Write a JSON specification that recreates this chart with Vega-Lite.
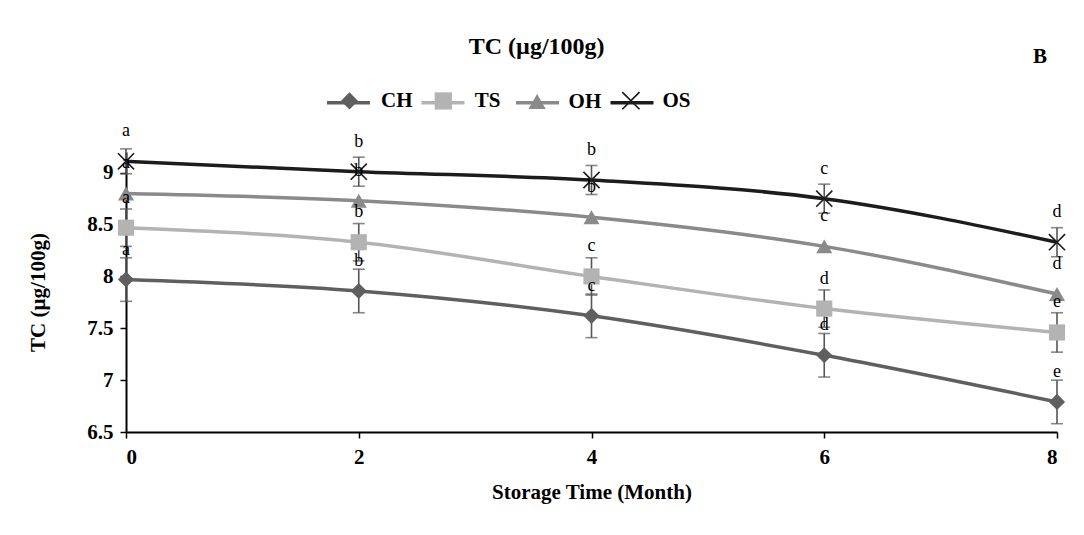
{
  "$schema": "https://vega.github.io/schema/vega-lite/v6.json",
  "autosize": {"type": "none"},
  "width": 931,
  "height": 280,
  "padding": {"left": 126, "top": 152, "right": 27, "bottom": 103},
  "background": "white",
  "title": {
    "text": "TC (µg/100g)",
    "font": "Liberation Serif",
    "fontSize": 24,
    "fontWeight": "bold",
    "color": "black",
    "anchor": "middle",
    "frame": "bounds",
    "offset": -13,
    "dx": -10
  },
  "config": {
    "view": {"stroke": null},
    "axis": {
      "domainColor": "black",
      "domainWidth": 2,
      "tickColor": "black",
      "tickWidth": 1.5,
      "tickSize": 6,
      "grid": false,
      "labelFont": "Liberation Serif",
      "labelFontWeight": "bold",
      "labelFontSize": 21,
      "labelColor": "black",
      "titleFont": "Liberation Serif",
      "titleFontWeight": "bold",
      "titleFontSize": 21,
      "titleColor": "black"
    }
  },
  "data": {
    "values": [
      {"series": "CH", "month": 0, "tc": 7.97, "sd": 0.21, "letter": "a"},
      {"series": "CH", "month": 2, "tc": 7.86, "sd": 0.21, "letter": "b"},
      {"series": "CH", "month": 4, "tc": 7.62, "sd": 0.21, "letter": "c"},
      {"series": "CH", "month": 6, "tc": 7.24, "sd": 0.21, "letter": "d"},
      {"series": "CH", "month": 8, "tc": 6.79, "sd": 0.21, "letter": "e"},
      {"series": "TS", "month": 0, "tc": 8.47, "sd": 0.18, "letter": "a"},
      {"series": "TS", "month": 2, "tc": 8.33, "sd": 0.18, "letter": "b"},
      {"series": "TS", "month": 4, "tc": 8.0, "sd": 0.18, "letter": "c"},
      {"series": "TS", "month": 6, "tc": 7.69, "sd": 0.18, "letter": "d"},
      {"series": "TS", "month": 8, "tc": 7.46, "sd": 0.19, "letter": "e"},
      {"series": "OH", "month": 0, "tc": 8.8, "sd": 0, "letter": "a"},
      {"series": "OH", "month": 2, "tc": 8.73, "sd": 0, "letter": "b"},
      {"series": "OH", "month": 4, "tc": 8.57, "sd": 0, "letter": "b"},
      {"series": "OH", "month": 6, "tc": 8.29, "sd": 0, "letter": "c"},
      {"series": "OH", "month": 8, "tc": 7.83, "sd": 0, "letter": "d"},
      {"series": "OS", "month": 0, "tc": 9.11, "sd": 0.12, "letter": "a"},
      {"series": "OS", "month": 2, "tc": 9.01, "sd": 0.14, "letter": "b"},
      {"series": "OS", "month": 4, "tc": 8.93, "sd": 0.14, "letter": "b"},
      {"series": "OS", "month": 6, "tc": 8.75, "sd": 0.14, "letter": "c"},
      {"series": "OS", "month": 8, "tc": 8.33, "sd": 0.14, "letter": "d"}
    ]
  },
  "encoding": {
    "x": {
      "field": "month",
      "type": "quantitative",
      "scale": {"domain": [0, 8], "nice": false},
      "axis": {"values": [0, 2, 4, 6, 8], "title": "Storage Time (Month)", "labelPadding": 8, "titlePadding": 14}
    },
    "y": {
      "field": "tc",
      "type": "quantitative",
      "scale": {"domain": [6.5, 9.2], "nice": false, "zero": false},
      "axis": {"values": [6.5, 7, 7.5, 8, 8.5, 9], "format": ".1~f", "title": "TC (µg/100g)", "labelPadding": 7, "titlePadding": 38}
    }
  },
  "layer": [
    {
      "mark": {"type": "line", "interpolate": "monotone", "strokeWidth": 3.5},
      "encoding": {
        "stroke": {
          "field": "series",
          "type": "nominal",
          "sort": ["CH", "TS", "OH", "OS"],
          "scale": {"range": ["#5f5f5f", "#b3b3b3", "#8a8a8a", "#1c1c1c"]},
          "legend": {
            "orient": "none",
            "legendX": 199,
            "legendY": -73,
            "direction": "horizontal",
            "title": null,
            "symbolType": "stroke",
            "symbolSize": 1849,
            "symbolStrokeWidth": 3.5,
            "labelExpr": "''",
            "labelOffset": 0,
            "gridAlign": "all",
            "columnPadding": 37.5
          }
        },
        "detail": {"field": "series"}
      }
    },
    {
      "transform": [{"filter": "datum.sd > 0"}],
      "mark": {"type": "errorbar", "ticks": {"size": 12}, "color": "#555555", "thickness": 1.6},
      "encoding": {
        "y": {"field": "tc", "type": "quantitative"},
        "yError": {"field": "sd"},
        "detail": {"field": "series"}
      }
    },
    {
      "mark": {"type": "point", "filled": true, "size": 260, "opacity": 1},
      "encoding": {
        "color": {
          "field": "series",
          "type": "nominal",
          "scale": {"domain": ["CH", "TS", "OH", "OS"], "range": ["#5f5f5f", "#b3b3b3", "#8a8a8a", "#1c1c1c"]},
          "legend": {
            "orient": "none",
            "legendX": 213,
            "legendY": -62,
            "direction": "horizontal",
            "title": null,
            "labelFont": "Liberation Serif",
            "labelFontWeight": "bold",
            "labelFontSize": 21,
            "labelColor": "black",
            "symbolSize": 296,
            "symbolOpacity": 1,
            "gridAlign": "all",
            "columnPadding": 16.8,
            "labelOffset": 21
          }
        },
        "shape": {
          "field": "series",
          "type": "nominal",
          "scale": {
            "domain": ["CH", "TS", "OH", "OS"],
            "range": [
              "diamond",
              "square",
              "triangle-up",
              "M-1.07,-0.93L0.93,1.07L1.07,0.93L-0.93,-1.07Z M-0.93,1.07L1.07,-0.93L0.93,-1.07L-1.07,0.93Z"
            ]
          }
        }
      }
    },
    {
      "mark": {"type": "text", "dy": -30, "font": "Liberation Serif", "fontSize": 18, "color": "black"},
      "encoding": {
        "text": {"field": "letter"}
      }
    },
    {
      "transform": [{"filter": "datum.series === 'OS' && datum.month === 8"}],
      "mark": {"type": "text", "text": "B", "font": "Liberation Serif", "fontSize": 21, "fontWeight": "bold", "color": "black", "dx": -17, "dy": -185, "baseline": "middle", "align": "center"}
    }
  ]
}
